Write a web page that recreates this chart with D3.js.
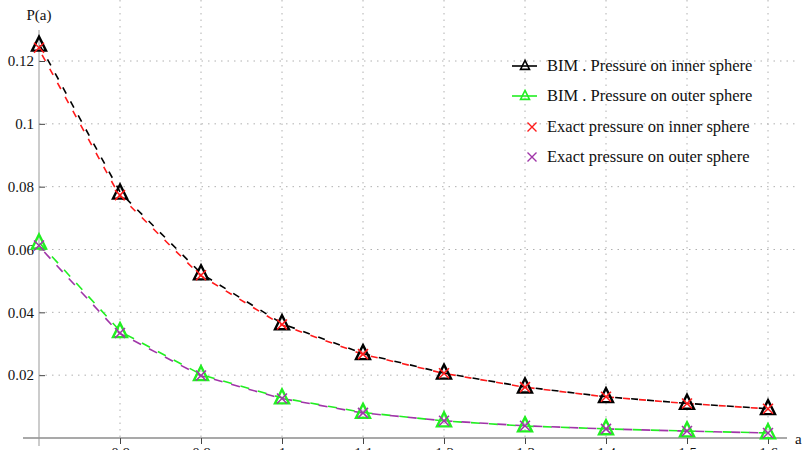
<!DOCTYPE html>
<html><head><meta charset="utf-8">
<script src="https://cdn.jsdelivr.net/npm/d3@7"></script>
<style>body{margin:0;background:#fff}svg{display:block}text{font-family:"Liberation Serif","Times New Roman",serif;fill:#111}</style>
</head><body><svg id="c" width="804" height="450"></svg>
<script>
const aValues = [0.7, 0.8, 0.9, 1.0, 1.1, 1.2, 1.3, 1.4, 1.5, 1.6];
const bimInner = [0.1250, 0.0779, 0.0522, 0.0363, 0.0268, 0.0206, 0.0162, 0.0131, 0.0110, 0.0093];
const bimOuter = [0.0620, 0.0338, 0.0201, 0.0127, 0.0081, 0.0054, 0.0038, 0.0029, 0.0022, 0.0016];
const exactInner = [0.1242, 0.0773, 0.0518, 0.0361, 0.0267, 0.0206, 0.0162, 0.0131, 0.0110, 0.0093];
const exactOuter = [0.0613, 0.0334, 0.0199, 0.0126, 0.0080, 0.0055, 0.0039, 0.0029, 0.0022, 0.0016];
const xTicks = [0.8, 0.9, 1, 1.1, 1.2, 1.3, 1.4, 1.5, 1.6];
const yTicks = [0.02, 0.04, 0.06, 0.08, 0.1, 0.12];
const seriesNames = ["BIM . Pressure on inner sphere", "BIM . Pressure on outer sphere", "Exact pressure on inner sphere", "Exact pressure on outer sphere"];

const svg = d3.select("#c");
const x = d3.scaleLinear().domain([0.7, 1.6]).range([39, 768]);
const y = d3.scaleLinear().domain([0, 0.12]).range([438, 61]);

// grid
const grid = svg.append("g").attr("stroke", "#b0b0b0").attr("stroke-width", 1).attr("stroke-dasharray", "1.5,5");
grid.selectAll(".vg").data(xTicks).join("line")
  .attr("x1", d => x(d)).attr("x2", d => x(d)).attr("y1", 0).attr("y2", 438);
grid.selectAll(".hg").data(yTicks).join("line")
  .attr("x1", 39).attr("x2", 795).attr("y1", d => y(d)).attr("y2", d => y(d));

// axes
const xAxis = d3.axisBottom(x).tickValues(xTicks).tickSize(6).tickPadding(3)
  .tickFormat(d => d === 1 ? "1" : d3.format(".1f")(d));
const gx = svg.append("g").attr("transform", "translate(0,438)").call(xAxis);
gx.select(".domain").remove();
gx.selectAll("line").attr("stroke", "#444");
gx.selectAll("text").attr("font-size", 15).attr("font-family", "Liberation Serif").attr("fill", "#111");
svg.append("line").attr("x1", 23).attr("x2", 787).attr("y1", 438).attr("y2", 438).attr("stroke", "#555").attr("stroke-width", 1.2);

const yAxis = d3.axisLeft(y).tickValues(yTicks).tickSize(0).tickPadding(5)
  .tickFormat(d => d === 0.1 ? "0.1" : d3.format(".2f")(d));
const gy = svg.append("g").attr("transform", "translate(39,0)").call(yAxis);
gy.select(".domain").remove();
gy.selectAll("text").attr("font-size", 15).attr("font-family", "Liberation Serif").attr("fill", "#111");
gy.selectAll(".tick").append("line").attr("x1", 0).attr("x2", 6).attr("stroke", "#444");
svg.append("line").attr("x1", 39).attr("x2", 39).attr("y1", 30).attr("y2", 446).attr("stroke", "#999").attr("stroke-width", 1);

svg.append("text").attr("x", 39).attr("y", 20).attr("text-anchor", "middle").attr("font-size", 15).text("P(a)");
svg.append("text").attr("x", 795).attr("y", 444).attr("font-size", 15).text("a");

const line = d3.line().x((d, i) => x(aValues[i])).y(d => y(d));
function drawLine(vals, color, offset, dash, dx) {
  svg.append("path").datum(vals).attr("d", line).attr("fill", "none")
    .attr("transform", `translate(${dx},0)`)
    .attr("stroke", color).attr("stroke-width", 1.6)
    .attr("stroke-dasharray", dash).attr("stroke-dashoffset", offset);
}
drawLine(bimInner, "#000", 0, "7,9", 0.8);
drawLine(exactInner, "#ff1a1a", 8, "7,9", -0.8);
drawLine(bimOuter, "#22ee22", 0, "9,9", 0.8);
drawLine(exactOuter, "#a035a8", 9, "9,9", -0.8);

const tri = s => `M0,${-s*0.62}L${s/2},${s*0.38}L${-s/2},${s*0.38}Z`;
function drawTri(vals, color) {
  svg.append("g").selectAll("path").data(vals).join("path")
    .attr("transform", (d, i) => `translate(${x(aValues[i])},${y(d)})`)
    .attr("d", tri(14)).attr("fill", "none").attr("stroke", color).attr("stroke-width", 2.4);
}
function drawX(vals, color) {
  svg.append("g").selectAll("path").data(vals).join("path")
    .attr("transform", (d, i) => `translate(${x(aValues[i])},${y(d)})`)
    .attr("d", "M-5,-5L5,5M5,-5L-5,5").attr("fill", "none").attr("stroke", color).attr("stroke-width", 1.5);
}
drawTri(bimInner, "#000");
drawTri(bimOuter, "#22ee22");
drawX(exactInner, "#ff1a1a");
drawX(exactOuter, "#a035a8");

// legend
const legColors = ["#000", "#22ee22", "#ff1a1a", "#a035a8"];
const legY = [66, 96, 127, 157];
const leg = svg.append("g");
seriesNames.forEach((name, i) => {
  const cy = legY[i];
  if (i < 2) {
    leg.append("line").attr("x1", 512).attr("x2", 537).attr("y1", cy).attr("y2", cy).attr("stroke", legColors[i]).attr("stroke-width", 1.6);
    leg.append("path").attr("transform", `translate(525,${cy})`).attr("d", tri(9)).attr("fill", "none").attr("stroke", legColors[i]).attr("stroke-width", 1.6);
  } else {
    leg.append("path").attr("transform", `translate(532,${cy})`).attr("d", "M-4.5,-4.5L4.5,4.5M4.5,-4.5L-4.5,4.5").attr("stroke", legColors[i]).attr("stroke-width", 1.4);
  }
  leg.append("text").attr("x", 547).attr("y", cy + 5).attr("font-size", 16.5).text(name);
});
</script></body></html>
